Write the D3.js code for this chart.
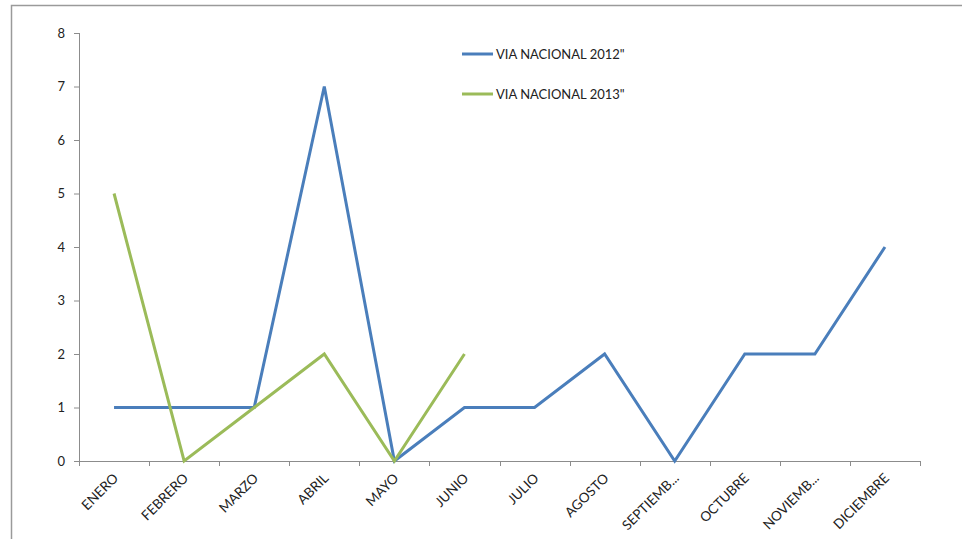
<!DOCTYPE html>
<html>
<head>
<meta charset="utf-8">
<script src="https://cdn.jsdelivr.net/npm/d3@7"></script>
<style>
  body { margin: 0; background: #fff; }
  text { font-family: Lato, "Open Sans", sans-serif; fill: #222; }
</style>
</head>
<body>
<svg id="chart" width="962" height="539"></svg>
<script>
const months = ["ENERO", "FEBRERO", "MARZO", "ABRIL", "MAYO", "JUNIO", "JULIO", "AGOSTO", "SEPTIEMB...", "OCTUBRE", "NOVIEMB...", "DICIEMBRE"];
const via2012 = [1, 1, 1, 7, 0, 1, 1, 2, 0, 2, 2, 4];
const via2013 = [5, 0, 1, 2, 0, 2];
const yTicks = [0, 1, 2, 3, 4, 5, 6, 7, 8];

const series = [
    {name: "VIA NACIONAL 2012\"", values: via2012, color: "#4a7ebb"},
    {name: "VIA NACIONAL 2013\"", values: via2013, color: "#9bbb59"}
];

const svg = d3.select("#chart");
const padding = {top: 33, left: 79, right: 42, bottom: 78};
const width = 962, height = 539;
const innerWidth = width - padding.left - padding.right;
const innerHeight = height - padding.top - padding.bottom;

// outer frame (right/bottom edges fall outside the picture)
svg.append("path")
    .attr("d", "M11.5,539V5.5H962")
    .attr("fill", "none")
    .attr("stroke", "#9a9a9a")
    .attr("stroke-width", 1.5);

const x = d3.scaleBand().domain(months).range([0, innerWidth]);
const y = d3.scaleLinear().domain([0, 8]).range([innerHeight, 0]);

const g = svg.append("g")
    .attr("transform", `translate(${padding.left},${padding.top})`);

// x axis with ticks on band boundaries
const xAxis = g.append("g")
    .attr("transform", `translate(0,${innerHeight})`);
xAxis.append("line")
    .attr("x1", 0).attr("x2", innerWidth)
    .attr("y1", 0.5).attr("y2", 0.5)
    .attr("stroke", "#8c8c8c");
xAxis.selectAll(".tick")
    .data(d3.range(months.length + 1))
    .enter().append("line")
    .attr("x1", i => Math.round(i * x.step()) + 0.5)
    .attr("x2", i => Math.round(i * x.step()) + 0.5)
    .attr("y1", 0).attr("y2", 5)
    .attr("stroke", "#8c8c8c");
xAxis.selectAll(".lbl")
    .data(months)
    .enter().append("text")
    .attr("font-size", 13.5)
    .attr("text-anchor", "end")
    .attr("transform", d => `translate(${x(d) + x.bandwidth() / 2 + 5},${18})rotate(-45)`)
    .text(d => d);

// y axis
const yAxis = d3.axisLeft(y)
    .tickValues(yTicks)
    .tickSize(5)
    .tickPadding(9)
    .tickFormat(d3.format("d"));
g.append("g")
    .attr("class", "axis y")
    .call(yAxis)
    .call(s => s.selectAll("path, line").attr("stroke", "#8c8c8c"))
    .call(s => s.select(".domain").attr("d", `M0.5,0V${innerHeight}`))
    .call(s => s.selectAll("text").attr("font-size", 13).attr("font-family", "Lato, 'Open Sans', sans-serif").attr("fill", "#222"));

// lines
const line = d3.line()
    .x((d, i) => x(months[i]) + x.bandwidth() / 2)
    .y(d => y(d));

g.selectAll(".series")
    .data(series)
    .enter().append("path")
    .attr("class", "series")
    .attr("d", d => line(d.values))
    .attr("fill", "none")
    .attr("stroke", d => d.color)
    .attr("stroke-width", 3)
    .attr("stroke-linejoin", "miter");

// legend
const legend = svg.selectAll(".legend")
    .data(series)
    .enter().append("g")
    .attr("class", "legend")
    .attr("transform", (d, i) => `translate(462,${54 + i * 40})`);
legend.append("line")
    .attr("x1", 0).attr("x2", 31)
    .attr("stroke", d => d.color)
    .attr("stroke-width", 3);
legend.append("text")
    .attr("x", 34)
    .attr("dy", "0.35em")
    .attr("font-size", 13)
    .text(d => d.name);
</script>
</body>
</html>
